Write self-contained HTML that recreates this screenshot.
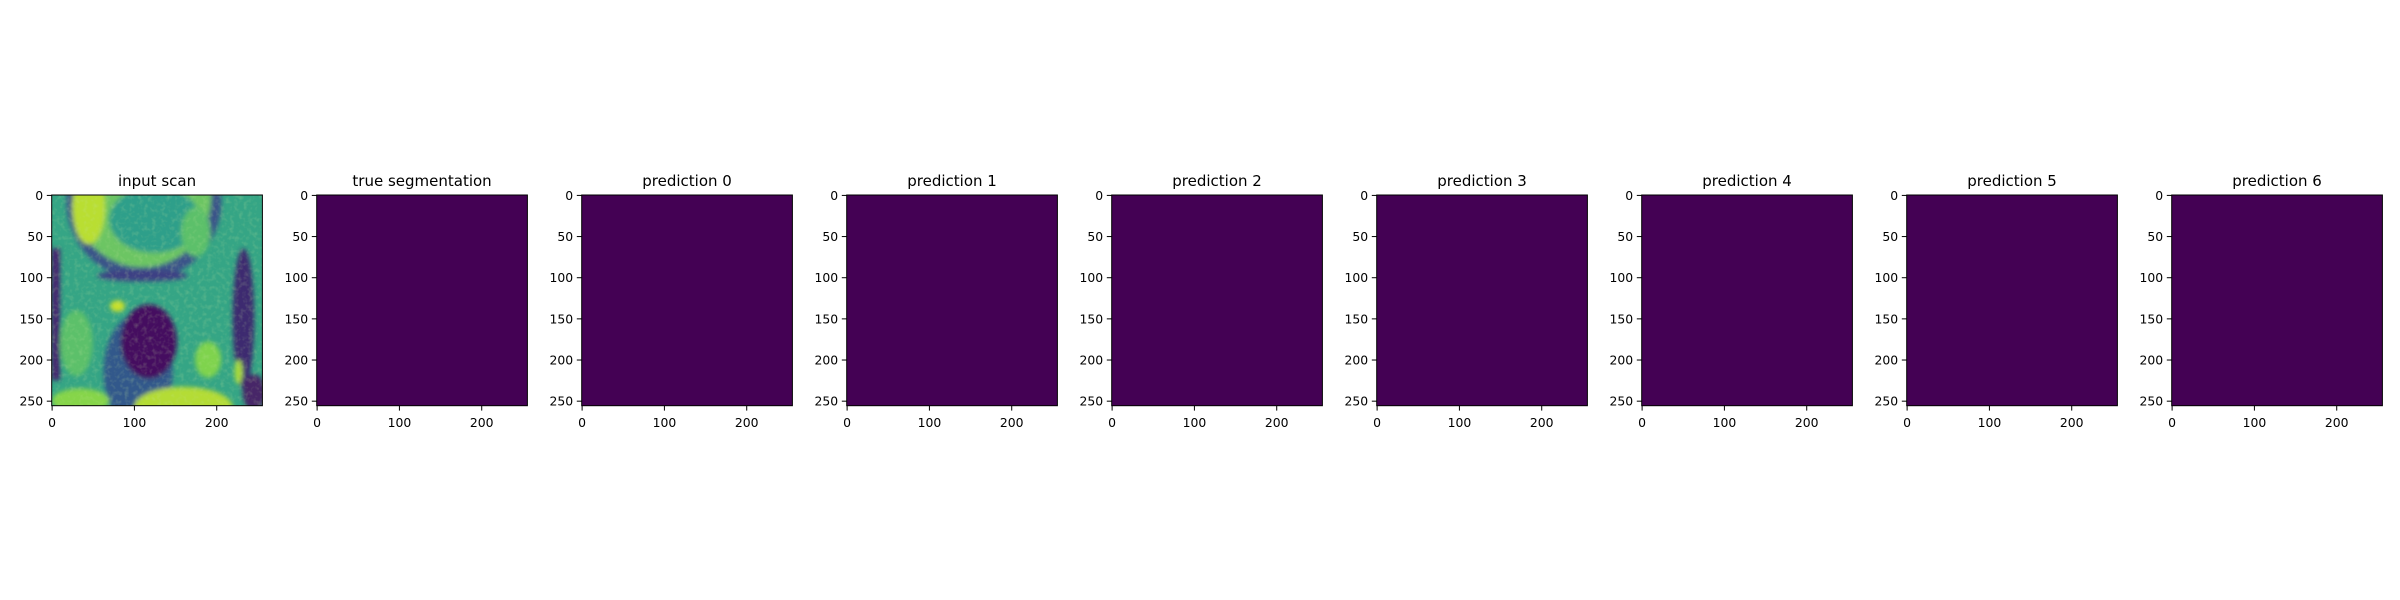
<!DOCTYPE html>
<html><head><meta charset="utf-8"><style>
html,body{margin:0;padding:0;background:#fff;}
svg{display:block;font-family:"DejaVu Sans","Liberation Sans",sans-serif;}
</style></head><body>
<svg id="fig" width="2400" height="600" viewBox="0 0 2400 600" xmlns="http://www.w3.org/2000/svg">
<defs>
<filter id="grain" x="0" y="0" width="1" height="1">
<feTurbulence type="fractalNoise" baseFrequency="0.18" numOctaves="2" seed="4" result="n"/>
<feColorMatrix in="n" type="matrix" values="0 0 0 0 0.55  0 0 0 0 0.8  0 0 0 0 0.35  0 0 0 1.2 -0.55" result="c"/>
<feComposite in="c" in2="SourceGraphic" operator="in"/>
</filter>
<filter id="blur3"><feGaussianBlur stdDeviation="3"/></filter>
<clipPath id="clip0"><rect x="0" y="0" width="256" height="256"/></clipPath>
</defs>
</svg>
<script>
const titles = ["input scan","true segmentation","prediction 0","prediction 1","prediction 2","prediction 3","prediction 4","prediction 5","prediction 6"];
const xTicks = [0,100,200];
const yTicks = [0,50,100,150,200,250];
const maskValue = [0,0,0,0,0,0,0,0];
const NS = "http://www.w3.org/2000/svg";
const svg = document.getElementById('fig');
const L0 = 51.7, SP = 265, TOP = 195, SZ = 210.7, N = 256;
function mk(t, a, p){const e=document.createElementNS(NS,t);for(const k in a)e.setAttribute(k,a[k]);(p||svg).appendChild(e);return e;}
function viridis(v){const c=[[68,1,84],[59,82,139],[33,145,140],[94,201,98],[253,231,37]];const t=Math.max(0,Math.min(1,v))*4;const i=Math.min(3,Math.floor(t));const f=t-i;return 'rgb('+c[i].map((x,j)=>Math.round(x+(c[i+1][j]-x)*f)).join(',')+')';}
titles.forEach((title,i)=>{
  const left = L0 + i*SP;
  const sx = d => left + (d+0.5)*SZ/N;
  const sy = d => TOP + (d+0.5)*SZ/N;
  const g = mk('g',{});
  
  
  const img = mk('g',{transform:`translate(${left},${TOP}) scale(${SZ/N})`},g);
  
  
  if(i===0){
    const c = mk('g',{'clip-path':'url(#clip0)'},img);
    mk('rect',{x:0,y:0,width:256,height:256,fill:'#35a585'},c);
    const b = mk('g',{filter:'url(#blur3)'},c);
    mk('ellipse',{cx:112,cy:8,rx:94,ry:95,fill:'#3a5289'},b);
    mk('ellipse',{cx:110,cy:2,rx:84,ry:86,fill:'#6cc563'},b);
    mk('ellipse',{cx:45,cy:15,rx:20,ry:45,fill:'#b9de30'},b);
    mk('ellipse',{cx:125,cy:30,rx:55,ry:40,fill:'#2f9f8a'},b);
    mk('ellipse',{cx:175,cy:45,rx:18,ry:30,fill:'#5cc06a'},b);
    mk('ellipse',{cx:110,cy:98,rx:55,ry:7,fill:'#3d3f84'},b);
    mk('rect',{x:0,y:65,width:10,height:160,fill:'#44206e'},b);
    mk('ellipse',{cx:233,cy:150,rx:13,ry:85,fill:'#3c2a70'},b);
    mk('ellipse',{cx:246,cy:240,rx:14,ry:22,fill:'#472567'},b);
    mk('ellipse',{cx:227,cy:215,rx:5,ry:15,fill:'#a9da3b'},b);
    mk('ellipse',{cx:105,cy:215,rx:42,ry:70,fill:'#33598b'},b);
    mk('ellipse',{cx:118,cy:178,rx:34,ry:45,fill:'#441060'},b);
    mk('ellipse',{cx:80,cy:135,rx:9,ry:7,fill:'#c9e02c'},b);
    mk('ellipse',{cx:160,cy:258,rx:60,ry:25,fill:'#b4dc34'},b);
    mk('ellipse',{cx:35,cy:250,rx:35,ry:15,fill:'#86d549'},b);
    mk('ellipse',{cx:190,cy:200,rx:16,ry:22,fill:'#7fd34e'},b);
    mk('ellipse',{cx:30,cy:180,rx:20,ry:40,fill:'#5cc06a'},b);
    mk('rect',{x:0,y:0,width:256,height:256,fill:'#000',filter:'url(#grain)',opacity:0.45},c);
  } else {
    const r = mk('rect',{x:0,y:0,width:256,height:256,fill:viridis(maskValue[i-1])},img);
    
    
  }
  const frame = mk('rect',{x:left,y:TOP,width:SZ,height:SZ,fill:'none',stroke:'#000','stroke-width':1},g);
  
  
  const t = mk('text',{x:left+SZ/2,y:TOP-9,'text-anchor':'middle','font-size':15,fill:'#000'},g);
  t.textContent = title;
  
  
  xTicks.forEach(v=>{
    const x = sx(v);
    mk('line',{x1:x,x2:x,y1:TOP+SZ,y2:TOP+SZ+4.9,stroke:'#000','stroke-width':1},g);
    const l = mk('text',{x:x,y:TOP+SZ+21.5,'text-anchor':'middle','font-size':12.4,fill:'#000'},g);
    l.textContent = v;
    
    
  });
  yTicks.forEach(v=>{
    const y = sy(v);
    mk('line',{x1:left-4.9,x2:left,y1:y,y2:y,stroke:'#000','stroke-width':1},g);
    const l = mk('text',{x:left-8.5,y:y+4.5,'text-anchor':'end','font-size':12.4,fill:'#000'},g);
    l.textContent = v;
    
    
  });
});
</script>
</body></html>
